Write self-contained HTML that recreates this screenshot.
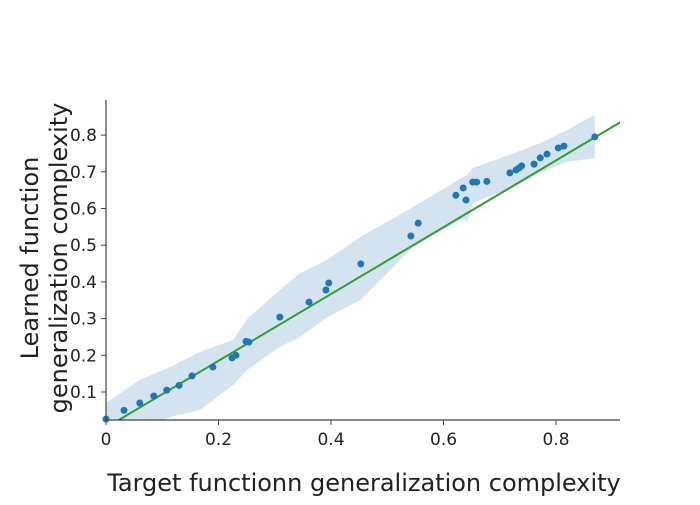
<!DOCTYPE html>
<html><head><meta charset="utf-8"><style>
body{margin:0;background:#fff;}
svg text{font-family:"DejaVu Sans","Liberation Sans",sans-serif;fill:#222;}
</style></head><body>
<svg id="chart" width="700" height="500">
<defs><clipPath id="clip"><rect x="106" y="100" width="514" height="320"/></clipPath></defs>
<g id="band" clip-path="url(#clip)"></g>
<g id="line" clip-path="url(#clip)"></g>
<g id="pts"></g>
<g id="axes"></g>
<text x="364" y="491" text-anchor="middle" font-size="24">Target functionn generalization complexity</text>
<text transform="translate(38,258) rotate(-90)" text-anchor="middle" font-size="24"><tspan x="0" dy="0">Learned function</tspan><tspan x="0" dy="29">generalization complexity</tspan></text>
</svg>
<script>
const xVals=[0,0.032,0.06,0.085,0.108,0.13,0.153,0.19,0.224,0.231,0.249,0.254,0.309,0.361,0.391,0.396,0.453,0.542,0.555,0.622,0.635,0.64,0.652,0.659,0.677,0.718,0.729,0.734,0.739,0.761,0.772,0.784,0.804,0.814,0.869];
const yVals=[0.026,0.05,0.07,0.089,0.105,0.118,0.144,0.168,0.193,0.2,0.238,0.236,0.304,0.345,0.378,0.397,0.449,0.525,0.56,0.636,0.656,0.623,0.672,0.672,0.674,0.697,0.705,0.71,0.716,0.721,0.738,0.748,0.765,0.77,0.795];
const bandX=[0,0.06,0.114,0.167,0.226,0.251,0.309,0.345,0.393,0.452,0.546,0.635,0.642,0.652,0.731,0.772,0.82,0.869];
const bandHi=[0.07,0.133,0.168,0.209,0.242,0.299,0.378,0.424,0.46,0.522,0.604,0.686,0.691,0.71,0.754,0.778,0.814,0.855];
const bandLo=[-0.01,0.002,0.032,0.051,0.119,0.16,0.223,0.25,0.304,0.35,0.495,0.574,0.563,0.615,0.664,0.697,0.727,0.738];
const fitSlope=0.91, fitIntercept=0.003;
const xTicks=[0,0.2,0.4,0.6,0.8];
const yTicks=[0.1,0.2,0.3,0.4,0.5,0.6,0.7,0.8];
const X=v=>106+v*562.5, Y=v=>428.7-v*367;
const NS='http://www.w3.org/2000/svg';
function mk(t,a,p){const e=document.createElementNS(NS,t);for(const k in a)e.setAttribute(k,a[k]);p.appendChild(e);return e;}
let d='M'+bandX.map((x,i)=>X(x)+','+Y(bandHi[i])).join('L');
for(let i=bandX.length-1;i>=0;i--)d+='L'+X(bandX[i])+','+Y(bandLo[i]);
const b=mk('path',{d:d+'Z',fill:'#d4e3f0'},document.getElementById('band'));


const l=mk('line',{x1:X(0),y1:Y(fitIntercept),x2:X(0.92),y2:Y(fitIntercept+fitSlope*0.92),stroke:'#2ca02c','stroke-width':2},document.getElementById('line'));


const pg=document.getElementById('pts');
xVals.forEach((x,i)=>{const c=mk('circle',{cx:X(x),cy:Y(yVals[i]),r:3.5,fill:'#1f77b4'},pg);

});
const ax=document.getElementById('axes');
const xa=mk('line',{x1:106,y1:420,x2:620,y2:420,stroke:'#444','stroke-width':1.2},ax);


const ya=mk('line',{x1:106,y1:100,x2:106,y2:420,stroke:'#444','stroke-width':1.2},ax);


xTicks.forEach(t=>{mk('line',{x1:X(t),y1:420,x2:X(t),y2:425,stroke:'#444'},ax);
const tx=mk('text',{x:X(t),y:445,'text-anchor':'middle','font-size':17},ax);tx.textContent=t;

});
yTicks.forEach(t=>{mk('line',{x1:101,y1:Y(t),x2:106,y2:Y(t),stroke:'#444'},ax);
const tx=mk('text',{x:97,y:Y(t)+6,'text-anchor':'end','font-size':17},ax);tx.textContent=t.toFixed(1);

});
</script>
</body></html>
